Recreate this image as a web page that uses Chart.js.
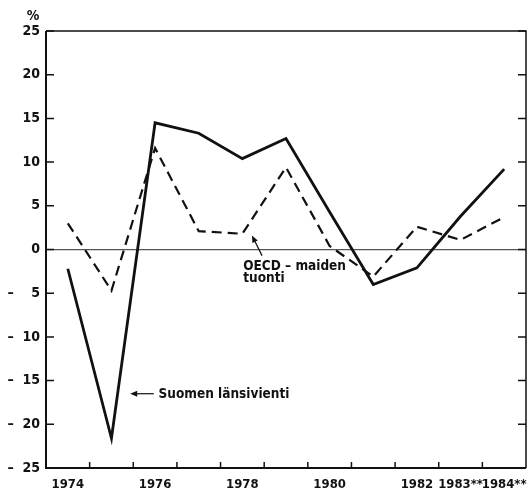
<!DOCTYPE html>
<html><head><meta charset="utf-8">
<script src="https://cdn.jsdelivr.net/npm/chart.js@4"></script>
<style>html,body{margin:0;padding:0;background:#fff}#c{display:block}</style>
</head><body>
<canvas id="c" width="527" height="491"></canvas>
<script>
const years = ['1974','1975','1976','1977','1978','1979','1980','1981','1982','1983**','1984**'];
const shownLabels = ['1974','1976','1978','1980','1982','1983**','1984**'];
const suomenLansivienti = [-2.2,-21.6,14.5,13.3,10.4,12.7,4.3,-4.0,-2.1,3.8,9.2];
const oecdTuonti = [3.0,-4.7,11.6,2.1,1.8,9.4,0.4,-3.1,2.6,1.1,3.7];
const yTicks = [25,20,15,10,5,0,-5,-10,-15,-20,-25];
const unitLabel = '%';
const oecdLabel = ['OECD – maiden', 'tuonti'];
const suomenLabel = 'Suomen länsivienti';

const FONT = '"DejaVu Sans Condensed", "Liberation Sans", sans-serif';
const INK = '#111';

function negLabel(v){
  if (v >= 0) return String(v);
  const a = Math.abs(v);
  return a < 10 ? '–    ' + a : '–  ' + a;
}

const framePlugin = {
  id: 'frame',
  afterDraw(chart){
    const {ctx, chartArea: a, scales:{x, y}} = chart;
    ctx.save();
    ctx.strokeStyle = INK;
    ctx.fillStyle = INK;
    ctx.lineCap = 'butt';
    ctx.lineWidth = 2;
    ctx.beginPath();
    ctx.moveTo(a.left, a.top); ctx.lineTo(a.left, a.bottom); ctx.lineTo(a.right, a.bottom);
    ctx.stroke();
    ctx.lineWidth = 1.5;
    ctx.beginPath();
    ctx.moveTo(a.left, a.top); ctx.lineTo(a.right, a.top); ctx.lineTo(a.right, a.bottom);
    ctx.stroke();
    yTicks.forEach(v => {
      const py = y.getPixelForValue(v);
      ctx.beginPath();
      ctx.moveTo(a.left, py); ctx.lineTo(a.left + 8, py);
      ctx.moveTo(a.right, py); ctx.lineTo(a.right - 8, py);
      ctx.stroke();
    });
    for (let i = 0; i < years.length - 1; i++) {
      const px = (x.getPixelForValue(i) + x.getPixelForValue(i + 1)) / 2;
      ctx.beginPath();
      ctx.moveTo(px, a.bottom); ctx.lineTo(px, a.bottom - 6);
      ctx.stroke();
    }
    ctx.font = 'bold 14px ' + FONT;
    ctx.textAlign = 'center';
    ctx.textBaseline = 'alphabetic';
    ctx.fillText(unitLabel, a.left - 13, a.top - 11);

    ctx.lineWidth = 1.2;
    const tipX = x.getPixelForValue(4.22), tipY = y.getPixelForValue(1.6);
    const tailX = x.getPixelForValue(4.45), tailY = y.getPixelForValue(-0.7);
    drawArrow(ctx, tailX, tailY, tipX, tipY);
    ctx.font = 'bold 13.5px ' + FONT;
    ctx.textAlign = 'left';
    ctx.fillText(oecdLabel[0], x.getPixelForValue(4.02), y.getPixelForValue(-2.4));
    ctx.fillText(oecdLabel[1], x.getPixelForValue(4.02), y.getPixelForValue(-3.75));

    const sTipX = x.getPixelForValue(1.43), sY = y.getPixelForValue(-16.5);
    const sTailX = x.getPixelForValue(1.97);
    drawArrow(ctx, sTailX, sY, sTipX, sY);
    ctx.textBaseline = 'middle';
    ctx.fillText(suomenLabel, x.getPixelForValue(2.08), sY + 1);
    ctx.restore();
  }
};

function drawArrow(ctx, x1, y1, x2, y2){
  const ang = Math.atan2(y2 - y1, x2 - x1);
  const L = 7, W = 3;
  ctx.beginPath();
  ctx.moveTo(x1, y1); ctx.lineTo(x2 - Math.cos(ang) * 4, y2 - Math.sin(ang) * 4);
  ctx.stroke();
  ctx.beginPath();
  ctx.moveTo(x2, y2);
  ctx.lineTo(x2 - L * Math.cos(ang) + W * Math.sin(ang), y2 - L * Math.sin(ang) - W * Math.cos(ang));
  ctx.lineTo(x2 - L * Math.cos(ang) - W * Math.sin(ang), y2 - L * Math.sin(ang) + W * Math.cos(ang));
  ctx.closePath();
  ctx.fill();
}

new Chart(document.getElementById('c'), {
  type: 'line',
  data: {
    labels: years,
    datasets: [
      { label: suomenLabel, data: suomenLansivienti, borderColor: INK, borderWidth: 2.8, pointRadius: 0, tension: 0, fill: false },
      { label: oecdLabel.join(' '), data: oecdTuonti, borderColor: INK, borderWidth: 2.2, borderDash: [10, 6], pointRadius: 0, tension: 0, fill: false }
    ]
  },
  options: {
    responsive: false,
    animation: false,
    devicePixelRatio: 1,
    layout: { padding: { top: 31, right: 1, left: 0, bottom: 0 } },
    plugins: { legend: { display: false }, tooltip: { enabled: false } },
    scales: {
      x: {
        type: 'category',
        offset: true,
        grid: { display: false, drawTicks: false },
        border: { display: false },
        ticks: {
          autoSkip: false, maxRotation: 0, minRotation: 0, padding: 9,
          color: INK, font: { family: FONT, size: 13, weight: 'bold' },
          callback: (v, i) => shownLabels.includes(years[i]) ? years[i] : ''
        },
        afterFit: s => { s.height = 23; s.paddingRight = 0; s.paddingLeft = 0; }
      },
      y: {
        min: -25, max: 25,
        afterBuildTicks: s => { s.ticks = yTicks.map(v => ({ value: v })); },
        grid: {
          drawTicks: false,
          color: c => (c.tick && c.tick.value === 0) ? '#555' : 'rgba(0,0,0,0)',
          lineWidth: 1.2
        },
        border: { display: false },
        ticks: {
          padding: 6, color: INK,
          font: { family: FONT, size: 14, weight: 'bold' },
          callback: v => negLabel(v)
        },
        afterFit: s => { s.width = 46; }
      }
    }
  },
  plugins: [framePlugin]
});
</script>
</body></html>
